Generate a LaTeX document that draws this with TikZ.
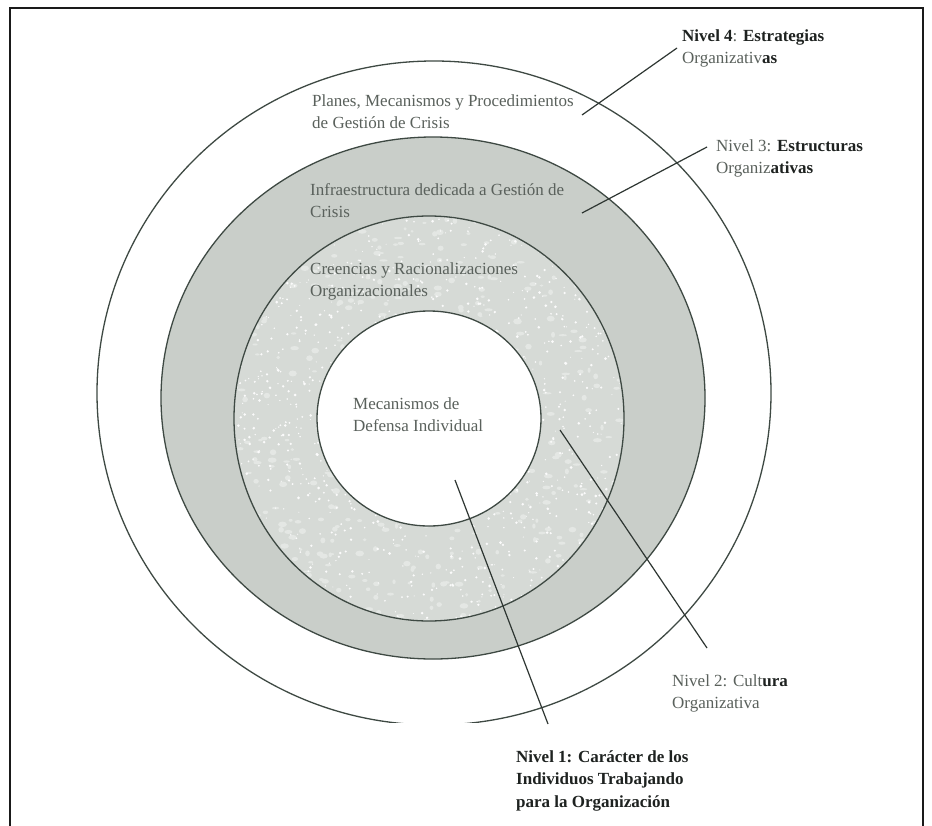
\documentclass[tikz,border=0pt]{standalone}
\usepackage{fontspec}
\setmainfont{Liberation Serif}
\definecolor{ringline}{HTML}{3E4943}
\definecolor{leadline}{HTML}{2E3632}
\definecolor{darkfill}{HTML}{C9CEC9}
\definecolor{lightfill}{HTML}{D6DAD6}
\definecolor{txtgray}{HTML}{5A615C}
\definecolor{txtdark}{HTML}{1E2220}
\definecolor{framecol}{HTML}{1A1A1A}
\newcommand\dk[1]{\textbf{\color{txtdark}#1}}
\begin{document}
\begin{tikzpicture}[x=1pt,y=-1pt,
  ring/.style={draw=ringline, line width=1.3pt},
  lead/.style={draw=leadline, line width=1.2pt},
  lbl/.style={anchor=north west, inner sep=0pt, align=left, text=txtgray,
              font=\fontsize{17}{22}\selectfont},
]
\useasboundingbox (0,0) rectangle (932,825);
\fill[white] (0,0) rectangle (932,825);
% frame, open at the bottom
\draw[framecol, line width=2.4pt] (10,827) -- (10,8) -- (923,8) -- (923,827);

% level 4: outer ring (bottom hidden)
\begin{scope}
  \clip (0,0) rectangle (932,722);
  \draw[ring] (434,393) ellipse [x radius=337, y radius=332];
\end{scope}

% level 3: dark ring
\fill[darkfill] (433,398) ellipse [x radius=272, y radius=261];
\draw[ring] (433,398) ellipse [x radius=272, y radius=261];

% level 2: light speckled ring
\fill[lightfill] (429,418.5) ellipse [x radius=195, y radius=202.5];
\begin{scope}
  \clip (429,418.5) ellipse [x radius=195, y radius=202.5];
  \pgfmathsetseed{7}
  \foreach \i in {1,...,500}{
    \pgfmathsetmacro\px{234+390*rnd}
    \pgfmathsetmacro\py{216+405*rnd}
    \pgfmathsetmacro\pw{1.5+3*rnd}
    \pgfmathsetmacro\ph{1+2*rnd}
    \fill[white!35!lightfill] (\px,\py) ellipse [x radius=\pw, y radius=\ph];
  }
  \foreach \i in {1,...,1200}{
    \pgfmathsetmacro\px{234+390*rnd}
    \pgfmathsetmacro\py{216+405*rnd}
    \pgfmathsetmacro\pr{0.5+1.0*rnd}
    \fill[white!90!lightfill] (\px,\py) circle [radius=\pr];
  }
\end{scope}
\draw[ring] (429,418.5) ellipse [x radius=195, y radius=202.5];

% level 1: inner white circle
\fill[white] (429,418.5) ellipse [x radius=112, y radius=107.5];
\draw[ring] (429,418.5) ellipse [x radius=112, y radius=107.5];

% connector end points
\coordinate (l4a) at (582,115);
\coordinate (l4b) at (677,48);
\coordinate (l3a) at (582,213);
\coordinate (l3b) at (707,147);
\coordinate (l2a) at (560,430);
\coordinate (l2b) at (707,648);
\coordinate (l1a) at (455,480);
\coordinate (l1b) at (548,724);

\draw[lead] (l4a) -- (l4b);
\draw[lead] (l3a) -- (l3b);
\draw[lead] (l2a) -- (l2b);
\draw[lead] (l1a) -- (l1b);

% texts inside the rings
\node[lbl] (planes) at (312,94.4) {Planes, Mecanismos y Procedimientos\\de Gestión de Crisis};
\node[lbl] (infra) at (310,183.4) {Infraestructura dedicada a Gestión de\\Crisis};
\node[lbl] (creen) at (310,262.4) {Creencias y Racionalizaciones\\Organizacionales};
\node[lbl] (mecan) at (353,397.4) {Mecanismos de\\Defensa Individual};

% level labels
\node[lbl] (niv4) at (682,29.4) {\dk{Nivel 4}: \dk{Estrategias}\\Organizativ\dk{as}};
\node[lbl] (niv3) at (716,139.4) {Nivel 3: \dk{Estructuras}\\Organiz\dk{ativas}};
\node[lbl] (niv2) at (672,674.4) {Nivel 2: Cult\dk{ura}\\Organizativa};
\node[lbl, text=txtdark, font=\fontsize{17}{22.5}\selectfont\bfseries] (niv1) at (516,750.4)
  {Nivel 1: Carácter de los\\Individuos Trabajando\\para la Organización};
\end{tikzpicture}
\end{document}
